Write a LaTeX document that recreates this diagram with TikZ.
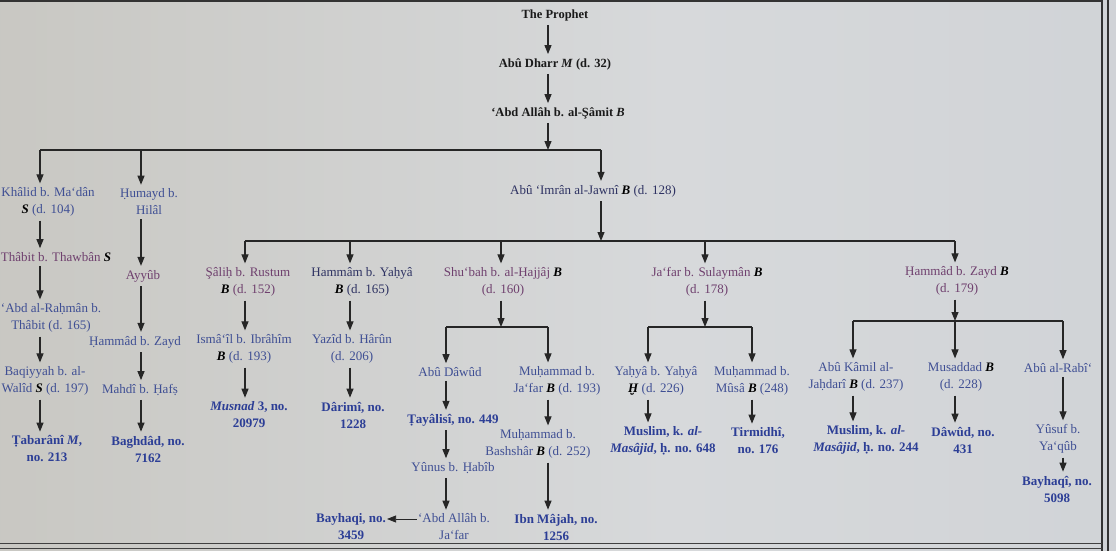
\documentclass[tikz,border=0pt]{standalone}
\usepackage{fontspec}
\setmainfont{Liberation Serif}
\usetikzlibrary{arrows.meta}
\definecolor{pA}{HTML}{7C7667}
\definecolor{pB}{HTML}{A6A193}
\definecolor{pC}{HTML}{C8C7C2}
\definecolor{pD}{HTML}{D7D9DB}
\definecolor{pE}{HTML}{CFD2D6}
\definecolor{pF}{HTML}{C3C6CC}
\definecolor{topk}{HTML}{1A1A1A}
\definecolor{navy}{HTML}{2E3262}
\definecolor{nblue}{HTML}{3F4F94}
\definecolor{purp}{HTML}{6F406E}
\definecolor{cblue}{HTML}{2C3E96}
\pgfdeclarehorizontalshading{paper}{100bp}{color(0bp)=(pA); color(10bp)=(pB); color(24bp)=(pC); color(55bp)=(pD); color(80bp)=(pE); color(100bp)=(pF)}
\newcommand{\gr}[1]{\textcolor{black}{\textbf{\textit{#1}}}}
\newcommand{\dn}[3]{\draw[arr] (#1.south -| #3) -- (#2.north -| #3);}
\begin{document}
\begin{tikzpicture}[x=1pt,y=-1pt,
  every node/.style={font=\fontsize{13}{17}\selectfont, align=center, inner xsep=1pt, inner ysep=4pt},
  nm/.style={text=nblue},
  pu/.style={text=purp},
  cl/.style={text=cblue},
  tp/.style={text=topk, font=\fontsize{12.5}{17}\selectfont},
  arr/.style={-{Triangle[length=9pt,width=7pt]}, line width=1.1pt, draw=black!85},
  brl/.style={line width=1.1pt, draw=black!85}]
\shade[shading=paper] (0,0) rectangle (1116,551);
\useasboundingbox (0,0) rectangle (1116,551);
% page rules
\draw[line width=2pt, black!80] (0,1.5) -- (1102,1.5);
\draw[line width=1.2pt, black!80] (1102,0) -- (1102,551);
\draw[line width=1.2pt, black!80] (1108,0) -- (1108,551);
\draw[line width=1pt, black!75] (0,543) -- (1102,543);
\draw[line width=1pt, black!75] (0,548) -- (1102,548);
% columns
\coordinate (c0) at (548,0);
\coordinate (cK) at (40,0);
\coordinate (cH) at (141,0);
\coordinate (cA) at (601,0);
\coordinate (cS) at (245,0);
\coordinate (cHm) at (350,0);
\coordinate (cSh) at (501,0);
\coordinate (cJ) at (705,0);
\coordinate (cHz) at (955,0);
\coordinate (cAD) at (446,0);
\coordinate (cMJ) at (548,0);
\coordinate (cYY) at (648,0);
\coordinate (cMM) at (752,0);
\coordinate (cAK) at (853,0);
\coordinate (cMu) at (955,0);
\coordinate (cAR) at (1063,0);
% nodes
\node[tp] (prophet) at (555,15) {\textbf{The Prophet}};
\node[tp] (dharr) at (555,64) {\textbf{Abû Dharr \textit{M} (d. 32)}};
\node[tp] (abd) at (558,113) {\textbf{‘Abd Allâh b. al-Şâmit \textit{B}}};
\node[nm] (khalid) at (48,202) {Khâlid b. Ma‘dân\\\gr{S} (d. 104)};
\node[nm] (humayd) at (149,202) {Ḥumayd b.\\Hilâl};
\node[text=navy] (aimran) at (593,191) {Abû ‘Imrân al-Jawnî \gr{B} (d. 128)};
\node[pu] (thabit) at (56,257) {Thâbit b. Thawbân \gr{S}};
\node[nm] (abdrahman) at (51,318) {‘Abd al-Raḥmân b.\\Thâbit (d. 165)};
\node[nm] (baqiyyah) at (45,381) {Baqiyyah b. al-\\Walîd \gr{S} (d. 197)};
\node[cl] (tabarani) at (47,449) {\textbf{Ṭabarânî \textit{M},}\\\textbf{no. 213}};
\node[pu] (ayyub) at (143,276) {Ayyûb};
\node[nm] (hammad1) at (135,342) {Ḥammâd b. Zayd};
\node[nm] (mahdi) at (140,390) {Mahdî b. Ḥafṣ};
\node[cl] (baghdad) at (148,449) {\textbf{Baghdâd, no.}\\\textbf{7162}};
\node[pu] (salih) at (248,282) {Şâliḥ b. Rustum\\\gr{B} (d. 152)};
\node[text=navy] (hammam) at (362,282) {Hammâm b. Yaḥyâ\\\gr{B} (d. 165)};
\node[pu] (shubah) at (503,282) {Shu‘bah b. al-Ḥajjâj \gr{B}\\(d. 160)};
\node[pu] (jafar) at (707,282) {Ja‘far b. Sulaymân \gr{B}\\(d. 178)};
\node[pu] (hammadz) at (957,281) {Ḥammâd b. Zayd \gr{B}\\(d. 179)};
\node[nm] (ismail) at (244,349) {Ismâ‘îl b. Ibrâhîm\\\gr{B} (d. 193)};
\node[nm] (yazid) at (352,349) {Yazîd b. Hârûn\\(d. 206)};
\node[cl] (musnad) at (249,415) {\textbf{\textit{Musnad} 3, no.}\\\textbf{20979}};
\node[cl] (darimi) at (353,415) {\textbf{Dârimî, no.}\\\textbf{1228}};
\node[nm] (abudawud) at (450,372) {Abû Dâwûd};
\node[nm] (mjafar) at (557,381) {Muḥammad b.\\Ja‘far \gr{B} (d. 193)};
\node[cl] (tayalisi) at (453,420) {\textbf{Ṭayâlisî, no. 449}};
\node[nm] (mbashshar) at (538,444) {Muḥammad b.\\Bashshâr \gr{B} (d. 252)};
\node[nm] (yunus) at (453,468) {Yûnus b. Ḥabîb};
\node[nm] (abdallah2) at (454,527) {‘Abd Allâh b.\\Ja‘far};
\node[cl] (bayhaqi1) at (351,527) {\textbf{Bayhaqi, no.}\\\textbf{3459}};
\node[cl] (ibnmajah) at (556,527) {\textbf{Ibn Mâjah, no.}\\\textbf{1256}};
\node[nm] (yahya) at (656,381) {Yaḥyâ b. Yaḥyâ\\\gr{Ḫ} (d. 226)};
\node[nm] (mmusa) at (752,381) {Muḥammad b.\\Mûsâ \gr{B} (248)};
\node[cl] (muslim1) at (663,441) {\textbf{Muslim, k. \textit{al-}}\\\textbf{\textit{Masâjid}, ḥ. no. 648}};
\node[cl] (tirmidhi) at (758,441) {\textbf{Tirmidhî,}\\\textbf{no. 176}};
\node[nm] (abukamil) at (856,377) {Abû Kâmil al-\\Jaḥdarî \gr{B} (d. 237)};
\node[nm] (musaddad) at (961,377) {Musaddad \gr{B}\\(d. 228)};
\node[nm] (aburabi) at (1058,368) {Abû al-Rabî‘};
\node[cl] (muslim2) at (866,440) {\textbf{Muslim, k. \textit{al-}}\\\textbf{\textit{Masâjid}, ḥ. no. 244}};
\node[cl] (dawud) at (963,440) {\textbf{Dâwûd, no.}\\\textbf{431}};
\node[nm] (yusuf) at (1058,439) {Yûsuf b.\\Ya‘qûb};
\node[cl] (bayhaqi2) at (1057,489) {\textbf{Bayhaqî, no.}\\\textbf{5098}};
% junctions
\coordinate (j1) at (548,150);
\coordinate (j2) at (601,241);
\coordinate (j3) at (501,327);
\coordinate (j4) at (705,327);
\coordinate (j5) at (955,321);
% top spine
\dn{prophet}{dharr}{c0}
\dn{dharr}{abd}{c0}
\draw[arr] (abd.south -| c0) -- (j1);
\draw[brl] (j1 -| cK) -- (j1 -| cA);
\draw[arr] (j1 -| cK) -- (khalid.north -| cK);
\draw[arr] (j1 -| cH) -- (humayd.north -| cH);
\draw[arr] (j1 -| cA) -- (aimran.north -| cA);
% left columns
\dn{khalid}{thabit}{cK}
\dn{thabit}{abdrahman}{cK}
\dn{abdrahman}{baqiyyah}{cK}
\dn{baqiyyah}{tabarani}{cK}
\dn{humayd}{ayyub}{cH}
\dn{ayyub}{hammad1}{cH}
\dn{hammad1}{mahdi}{cH}
\dn{mahdi}{baghdad}{cH}
% Abu Imran branch
\draw[arr] (aimran.south -| cA) -- (j2);
\draw[brl] (j2 -| cS) -- (j2 -| cHz);
\draw[arr] (j2 -| cS) -- (salih.north -| cS);
\draw[arr] (j2 -| cHm) -- (hammam.north -| cHm);
\draw[arr] (j2 -| cSh) -- (shubah.north -| cSh);
\draw[arr] (j2 -| cJ) -- (jafar.north -| cJ);
\draw[arr] (j2 -| cHz) -- (hammadz.north -| cHz);
\dn{salih}{ismail}{cS}
\dn{ismail}{musnad}{cS}
\dn{hammam}{yazid}{cHm}
\dn{yazid}{darimi}{cHm}
% Shu'bah
\draw[arr] (shubah.south -| cSh) -- (j3);
\draw[brl] (j3 -| cAD) -- (j3 -| cMJ);
\draw[arr] (j3 -| cAD) -- (abudawud.north -| cAD);
\draw[arr] (j3 -| cMJ) -- (mjafar.north -| cMJ);
\dn{abudawud}{tayalisi}{cAD}
\dn{tayalisi}{yunus}{cAD}
\dn{yunus}{abdallah2}{cAD}
\draw[arr, line width=0.8pt] ([yshift=8pt]abdallah2.west) -- ([yshift=8pt]bayhaqi1.east);
\dn{mjafar}{mbashshar}{cMJ}
\dn{mbashshar}{ibnmajah}{cMJ}
% Ja'far
\draw[arr] (jafar.south -| cJ) -- (j4);
\draw[brl] (j4 -| cYY) -- (j4 -| cMM);
\draw[arr] (j4 -| cYY) -- (yahya.north -| cYY);
\draw[arr] (j4 -| cMM) -- (mmusa.north -| cMM);
\dn{yahya}{muslim1}{cYY}
\dn{mmusa}{tirmidhi}{cMM}
% Hammad b. Zayd
\draw[arr] (hammadz.south -| cHz) -- (j5);
\draw[brl] (j5 -| cAK) -- (j5 -| cAR);
\draw[arr] (j5 -| cAK) -- (abukamil.north -| cAK);
\draw[arr] (j5 -| cMu) -- (musaddad.north -| cMu);
\draw[arr] (j5 -| cAR) -- (aburabi.north -| cAR);
\dn{abukamil}{muslim2}{cAK}
\dn{musaddad}{dawud}{cMu}
\dn{aburabi}{yusuf}{cAR}
\dn{yusuf}{bayhaqi2}{cAR}
\end{tikzpicture}
\end{document}
